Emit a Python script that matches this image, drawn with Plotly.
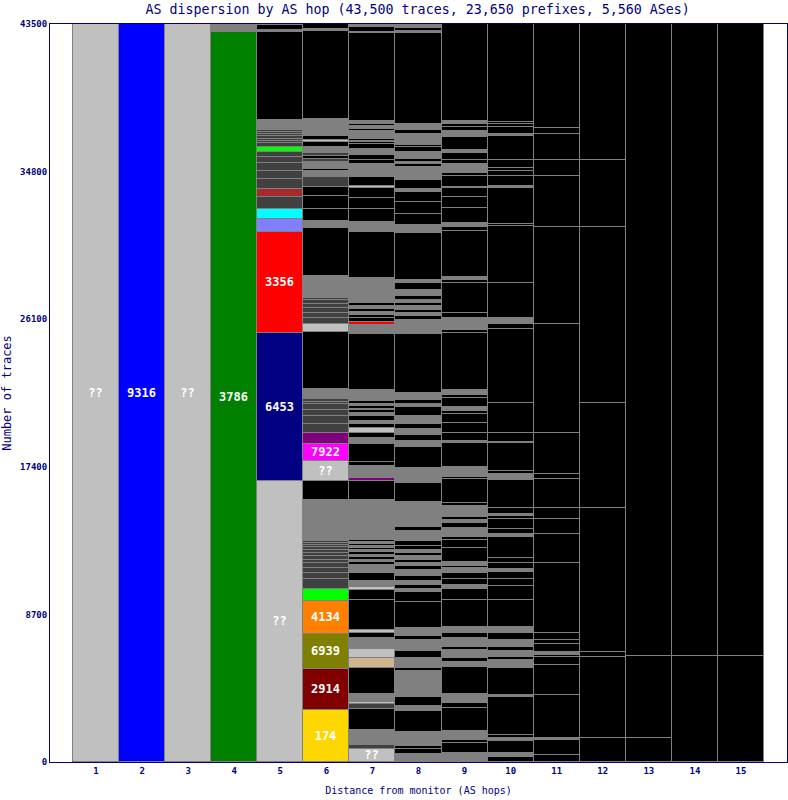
import plotly.graph_objects as go

NAVY = "#000080"
COL = {'K': '#000000', 'G': '#808080', 'L': '#c0c0c0', 'D': '#404040', 'B': '#0000ff',
       'GR': '#008000', 'NV': '#000080', 'R': '#ff0000', 'LV': '#8080ff', 'C': '#00ffff',
       'BR': '#a52a2a', 'LI': '#00ff00', 'Y': '#ffd700', 'DR': '#800000', 'O': '#808000',
       'OR': '#ff8000', 'M': '#ff00ff', 'P': '#800080', 'T': '#d2b48c'}

hops = list(range(1, 16))
y_ticks = [0, 8700, 17400, 26100, 34800, 43500]

# segments per hop, bottom to top: (traces, colour code, label)
hop1 = [(43500, 'L', '??')]
hop2 = [(43500, 'B', '9316')]
hop3 = [(43500, 'L', '??')]
hop4 = [(43044, 'GR', '3786'), (40, 'D'), (59, 'OR'), (59, 'R'), (300, 'G')]
hop5 = [(16562, 'L', '??'), (8741, 'NV', '6453'), (5953, 'R', '3356'), (731, 'LV'), (625, 'C'),
        (672, 'D'), (507, 'BR'), (555, 'D'), (470, 'D'), (510, 'D'), (336, 'D'), (312, 'D'),
        (277, 'LI'), (236, 'D'), (128, 'D'), (128, 'D'), (128, 'D'), (128, 'D'), (128, 'D'),
        (128, 'D'), (589, 'G'), (5204, 'K'), (100, 'G'), (295, 'K'), (200, 'G')]
hop6 = [(3065, 'Y', '174'), (2417, 'DR', '2914'), (2081, 'O', '6939'), (1945, 'OR', '4134'),
        (672, 'LI'), (589, 'D'), (389, 'D'), (295, 'D'), (259, 'D'), (212, 'D'), (200, 'D'),
        (195, 'D'), (177, 'D'), (159, 'D'), (136, 'D'), (136, 'D'), (118, 'D'), (2399, 'G'),
        (1120, 'K'), (1179, 'L', '??'), (984, 'M', '7922'), (666, 'P'), (513, 'D'), (489, 'D'),
        (377, 'D'), (330, 'D'), (138, 'D'), (138, 'D'), (589, 'G'), (3377, 'K'), (454, 'L'),
        (395, 'D'), (295, 'D'), (295, 'D'), (236, 'D'), (195, 'D'), (159, 'D'), (1273, 'G'),
        (2811, 'K'), (106, 'L'), (354, 'G'), (707, 'K'), (731, 'K'), (530, 'K'), (589, 'D'),
        (389, 'G'), (100, 'K'), (395, 'G'), (177, 'D'), (177, 'K'), (177, 'D'), (59, 'K'),
        (295, 'G'), (330, 'K'), (83, 'L'), (271, 'K'), (984, 'G'), (5204, 'K'), (100, 'G'),
        (295, 'K'), (200, 'G')]
hop7 = [(784, 'L', '??'), (200, 'D'), (900, 'G'), (1220, 'K'), (313, 'D'), (136, 'L'), (450, 'G'),
        (1513, 'K'), (589, 'T'), (547, 'L'), (629, 'G'), (312, 'K'), (177, 'L'), (1768, 'K'),
        (589, 'K'), (159, 'L'), (371, 'G'), (489, 'K'), (452, 'G'), (177, 'K'), (118, 'G'),
        (177, 'K'), (118, 'G'), (177, 'K'), (117, 'G'), (118, 'K'), (118, 'G'), (118, 'K'),
        (118, 'G'), (118, 'K'), (117, 'G'), (2240, 'G'), (1160, 'K'), (137, 'P'), (295, 'G'),
        (432, 'G'), (255, 'K'), (1020, 'K'), (354, 'G'), (334, 'K'), (295, 'L'), (236, 'K'),
        (157, 'G'), (295, 'K'), (196, 'G'), (157, 'K'), (79, 'L'), (147, 'K'), (147, 'G'),
        (147, 'K'), (148, 'G'), (491, 'G'), (3340, 'K'), (491, 'G'), (196, 'R'), (236, 'K'),
        (180, 'K'), (180, 'G'), (180, 'K'), (180, 'G'), (180, 'K'), (180, 'G'), (1277, 'G'),
        (2710, 'K'), (138, 'G'), (452, 'G'), (750, 'K'), (680, 'K'), (590, 'K'), (80, 'L'),
        (560, 'K'), (746, 'G'), (236, 'K'), (300, 'K'), (354, 'G'), (300, 'K'), (98, 'K'),
        (98, 'G'), (98, 'K'), (99, 'G'), (354, 'G'), (147, 'K'), (147, 'G'), (147, 'K'),
        (148, 'G'), (5206, 'K'), (60, 'G'), (295, 'K'), (200, 'G')]
hop8 = [(490, 'G'), (295, 'K'), (158, 'K'), (845, 'G'), (1230, 'K'), (295, 'G'), (540, 'K'),
        (1532, 'G'), (140, 'K'), (589, 'G'), (430, 'K'), (648, 'G'), (255, 'K'), (432, 'G'),
        (1560, 'K'), (590, 'K'), (157, 'G'), (260, 'K'), (216, 'G'), (330, 'K'), (354, 'G'),
        (196, 'K'), (196, 'G'), (196, 'K'), (196, 'G'), (196, 'K'), (196, 'G'), (199, 'K'),
        (330, 'K'), (550, 'G'), (236, 'K'), (330, 'G'), (1139, 'G'), (1130, 'K'), (196, 'G'),
        (700, 'G'), (1230, 'K'), (354, 'G'), (330, 'K'), (393, 'G'), (290, 'K'), (452, 'G'),
        (540, 'K'), (196, 'G'), (196, 'K'), (452, 'G'), (3438, 'K'), (432, 'G'), (80, 'L'),
        (354, 'G'), (196, 'K'), (196, 'G'), (196, 'K'), (196, 'G'), (196, 'K'), (196, 'G'),
        (199, 'K'), (393, 'G'), (393, 'K'), (196, 'G'), (2750, 'K'), (491, 'G'), (660, 'K'),
        (680, 'K'), (600, 'K'), (196, 'G'), (500, 'K'), (295, 'G'), (452, 'G'), (172, 'K'),
        (172, 'G'), (172, 'K'), (172, 'G'), (196, 'G'), (330, 'K'), (98, 'K'), (98, 'G'),
        (98, 'K'), (99, 'G'), (354, 'G'), (236, 'K'), (354, 'G'), (5360, 'K'), (100, 'G'),
        (180, 'K'), (300, 'G')]
hop9 = [(513, 'G'), (589, 'K'), (196, 'K'), (550, 'G'), (1320, 'K'), (295, 'K'), (530, 'G'),
        (1627, 'K'), (295, 'G'), (200, 'K'), (489, 'G'), (196, 'K'), (495, 'G'), (295, 'K'),
        (389, 'G'), (1574, 'K'), (631, 'K'), (253, 'G'), (336, 'K'), (389, 'K'), (259, 'G'),
        (153, 'K'), (236, 'G'), (790, 'K'), (489, 'K'), (196, 'K'), (495, 'G'), (295, 'K'),
        (196, 'G'), (196, 'K'), (631, 'G'), (159, 'K'), (1432, 'K'), (136, 'K'), (589, 'G'),
        (1379, 'K'), (136, 'G'), (454, 'K'), (589, 'K'), (530, 'K'), (212, 'K'), (236, 'G'),
        (495, 'K'), (196, 'K'), (295, 'G'), (3377, 'K'), (159, 'K'), (690, 'G'), (295, 'K'),
        (1768, 'K'), (196, 'K'), (196, 'G'), (2676, 'K'), (236, 'K'), (271, 'G'), (849, 'K'),
        (648, 'K'), (530, 'K'), (94, 'G'), (631, 'K'), (177, 'K'), (177, 'G'), (59, 'K'),
        (295, 'G'), (236, 'K'), (430, 'K'), (159, 'G'), (784, 'K'), (336, 'G'), (218, 'K'),
        (195, 'K'), (177, 'G'), (5800, 'K')]
hop10 = [(277, 'K'), (236, 'G'), (743, 'K'), (141, 'G'), (195, 'K'), (2257, 'K'), (100, 'G'),
         (1574, 'K'), (489, 'G'), (195, 'K'), (354, 'G'), (236, 'K'), (395, 'G'), (395, 'K'),
         (295, 'G'), (94, 'K'), (1574, 'K'), (843, 'K'), (395, 'K'), (430, 'K'), (159, 'G'),
         (371, 'K'), (259, 'K'), (1273, 'K'), (159, 'G'), (295, 'K'), (572, 'K'), (195, 'K'),
         (118, 'G'), (336, 'K'), (1668, 'K'), (354, 'G'), (195, 'K'), (1615, 'K'), (94, 'G'),
         (495, 'K'), (1768, 'K'), (4379, 'K'), (277, 'K'), (354, 'G'), (2063, 'K'), (3377, 'K'),
         (118, 'K'), (2140, 'K'), (83, 'G'), (607, 'K'), (312, 'K'), (141, 'K'), (489, 'K'),
         (1432, 'K'), (83, 'G'), (413, 'K'), (195, 'K'), (136, 'K'), (5900, 'K')]
hop11 = [(413, 'K'), (884, 'K'), (100, 'G'), (2552, 'K'), (1750, 'K'), (507, 'K'), (100, 'K'),
         (195, 'G'), (436, 'K'), (253, 'K'), (395, 'K'), (4126, 'K'), (40, 'G'), (1674, 'K'),
         (902, 'K'), (631, 'K'), (1709, 'K'), (295, 'K'), (2417, 'K'), (6424, 'K'), (5717, 'K'),
         (3006, 'K'), (943, 'K'), (1532, 'K'), (354, 'K'), (6300, 'K')]
hop12 = [(1397, 'K'), (4810, 'K'), (259, 'K'), (8487, 'K'), (6189, 'K'), (10373, 'K'),
         (3949, 'K'), (8200, 'K')]
hop13 = [(1397, 'K'), (4833, 'K'), (37400, 'K')]
hop14 = [(6230, 'K'), (37400, 'K')]
hop15 = [(6230, 'K'), (37400, 'K')]

hop_data = [hop1, hop2, hop3, hop4, hop5, hop6, hop7, hop8, hop9, hop10,
            hop11, hop12, hop13, hop14, hop15]

fig = go.Figure()
nlayers = max(len(h) for h in hop_data)
for k in range(nlayers):
    xs, ys, cs, ts = [], [], [], []
    for hop, segs in zip(hops, hop_data):
        if k < len(segs):
            seg = segs[k]
            xs.append(hop)
            ys.append(seg[0])
            cs.append(COL[seg[1]])
            ts.append(seg[2] if len(seg) > 2 else '')
    fig.add_trace(go.Bar(
        x=xs, y=ys, width=1,
        marker=dict(color=cs, line=dict(color='#808080', width=1)),
        text=ts, textposition='inside', insidetextanchor='middle', textangle=0,
        textfont=dict(family='DejaVu Sans Mono', size=12, color='white', weight='bold'),
        hoverinfo='skip', showlegend=False))

fig.update_layout(
    barmode='stack', bargap=0, width=788, height=800,
    margin=dict(l=50, r=1, t=24, b=38),
    paper_bgcolor='white', plot_bgcolor='white',
    uniformtext=dict(mode='show', minsize=12),
    title=dict(text='AS dispersion by AS hop (43,500 traces, 23,650 prefixes, 5,560 ASes)',
               x=0.53, xanchor='center', y=1 - 9 / 800, yanchor='middle',
               font=dict(family='DejaVu Sans Mono', size=13.3, color=NAVY)),
    xaxis=dict(range=[0, 16], tickvals=hops, ticktext=[str(h) for h in hops],
               showline=True, mirror=True, linecolor=NAVY, linewidth=1, showgrid=False,
               zeroline=False, ticks='',
               tickfont=dict(family='DejaVu Sans Mono', size=9, color=NAVY, weight='bold'),
               title=dict(text='Distance from monitor (AS hops)', standoff=12,
                          font=dict(family='DejaVu Sans Mono', size=10, color=NAVY))),
    yaxis=dict(range=[0, 43500], tickvals=y_ticks, ticktext=[str(v) for v in y_ticks],
               showline=True, mirror=True, linecolor=NAVY, linewidth=1, showgrid=False,
               zeroline=False, ticks='',
               tickfont=dict(family='DejaVu Sans Mono', size=9, color=NAVY, weight='bold'),
               title=dict(text='Number of traces', standoff=6,
                          font=dict(family='DejaVu Sans Mono', size=12, color=NAVY))),
)

fig.write_html("out.html")
